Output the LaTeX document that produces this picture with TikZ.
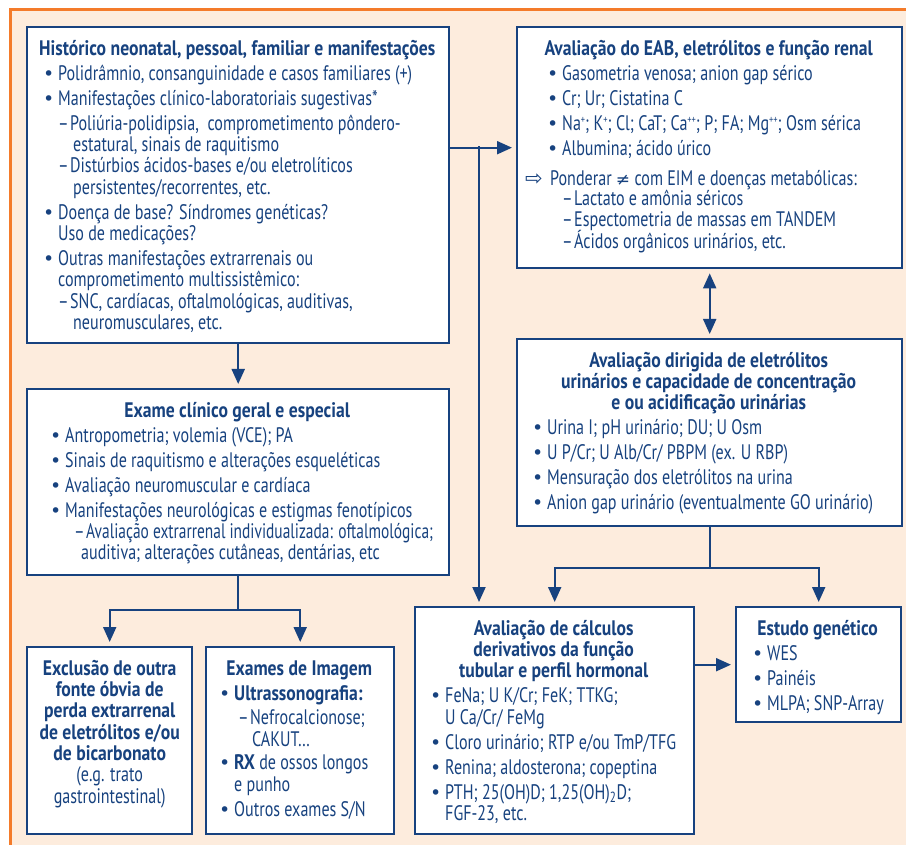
\documentclass[tikz,border=0pt]{standalone}
\usepackage{fontspec}
\setmainfont{PT Sans}[FakeStretch=0.765, BoldFeatures={FakeStretch=0.84}]
\newfontfamily\simbolos{DejaVu Sans}
\usetikzlibrary{arrows.meta,positioning}
\definecolor{azul}{HTML}{17427F}
\definecolor{laranja}{HTML}{F47B2A}
\definecolor{pessego}{HTML}{FDECDD}
\newcommand{\marca}{\makebox[15pt][l]{\simbolos\fontsize{19}{19}\selectfont •}}
\newcommand{\recuo}[1][15pt]{\hspace*{#1}}
\newcommand{\traco}[1][15pt]{\hspace*{#1}\makebox[12pt][l]{–}}
\newcommand{\titulo}[2]{\makebox[#1][c]{\rule{0pt}{16pt}\bfseries #2}}
\newcommand{\sobre}[1]{\raisebox{6.5pt}{\fontsize{11}{11}\selectfont #1}}

\begin{document}
\begin{tikzpicture}[x=1pt, y=-1pt,
    caixa/.style={draw=azul, line width=2.4pt, fill=white, inner sep=0pt, anchor=north west},
    texto/.style={inner sep=0pt, align=left, text=azul, font=\fontsize{21}{21.3}\selectfont},
    seta/.style={draw=azul, line width=2pt, -{Triangle[length=15pt,width=13pt]}, shorten >=4pt},
    seta2/.style={seta, {Triangle[length=15pt,width=13pt]}-{Triangle[length=15pt,width=13pt]}, shorten <=4pt}]
  \useasboundingbox (0,0) rectangle (906,845);
  \fill[pessego] (10.5,10) rectangle (906,845);
  \draw[laranja, line width=3pt] (10.5,845) -- (10.5,10) -- (906,10);

  \node [caixa, minimum width=422pt, minimum height=316pt] (historico) at (26,26) {};
  \node [caixa, minimum width=385pt, minimum height=241pt] (eab) at (516,26) {};
  \node [caixa, minimum width=385pt, minimum height=187pt] (dirigida) at (516,338) {};
  \node [caixa, minimum width=422pt, minimum height=186pt] (exame) at (26,388) {};
  \node [caixa, minimum width=165pt, minimum height=187pt] (exclusao) at (26,646) {};
  \node [caixa, minimum width=188pt, minimum height=187pt] (imagem) at (205,646) {};
  \node [caixa, minimum width=279pt, minimum height=227pt] (calculos) at (414,606) {};
  \node [caixa, minimum width=165pt, minimum height=115pt] (genetico) at (735,606) {};

  \node [texto, below right=13pt and 17pt of historico.north west] (historico-txt) {%
    \titulo{388pt}{Histórico neonatal, pessoal, familiar e manifestações}\\[3.7pt]
    \marca Polidrâmnio, consanguinidade e casos familiares (+)\\[3.7pt]
    \marca Manifestações clínico-laboratoriais sugestivas*\\[3.7pt]
    \traco Poliúria-polidipsia,\ \ comprometimento pôndero-\\
    \recuo[30pt]estatural, sinais de raquitismo\\
    \traco Distúrbios ácidos-bases e/ou eletrolíticos\\
    \recuo[30pt]persistentes/recorrentes, etc.\\[3.7pt]
    \marca Doença de base? Síndromes genéticas?\\
    \recuo Uso de medicações?\\[3.7pt]
    \marca Outras manifestações extrarrenais ou\\
    \recuo comprometimento multissistêmico:\\
    \traco SNC, cardíacas, oftalmológicas, auditivas,\\
    \recuo[30pt]neuromusculares, etc.};

  \node [texto, below right=13pt and 9pt of eab.north west] (eab-txt) {%
    \titulo{367pt}{Avaliação do EAB, eletrólitos e função renal}\\[3.7pt]
    \recuo[22pt]\marca Gasometria venosa; anion gap sérico\\[3.7pt]
    \recuo[22pt]\marca Cr; Ur; Cistatina C\\[3.7pt]
    \recuo[22pt]\marca Na\sobre{+}; K\sobre{+}; Cl; CaT; Ca\sobre{++}; P; FA; Mg\sobre{++}; Osm sérica\\[3.7pt]
    \recuo[22pt]\marca Albumina; ácido úrico\\[8.7pt]
    \makebox[25pt][l]{\simbolos\fontsize{21}{21}\selectfont ⇨}Ponderar {\simbolos\fontsize{17}{17}\selectfont ≠} com EIM e doenças metabólicas:\\[-0.8pt]
    \traco[37pt]Lactato e amônia séricos\\[-0.8pt]
    \traco[37pt]Espectometria de massas em TANDEM\\[-0.8pt]
    \traco[37pt]Ácidos orgânicos urinários, etc.};

  \node [texto, below right=13pt and 16pt of dirigida.north west] (dirigida-txt) {%
    \titulo{353pt}{Avaliação dirigida de eletrólitos}\\
    \titulo{353pt}{urinários e capacidade de concentração}\\
    \titulo{353pt}{e ou acidificação urinárias}\\[3.7pt]
    \marca Urina I; pH urinário; DU; U Osm\\[3.7pt]
    \marca U P/Cr; U Alb/Cr/ PBPM (ex. U RBP)\\[3.7pt]
    \marca Mensuração dos eletrólitos na urina\\[3.7pt]
    \marca Anion gap urinário (eventualmente GO urinário)};

  \node [texto, below right=13pt and 24pt of exame.north west] (exame-txt) {%
    \titulo{374pt}{Exame clínico geral e especial}\\[3.7pt]
    \marca Antropometria; volemia (VCE); PA\\[3.7pt]
    \marca Sinais de raquitismo e alterações esqueléticas\\[3.7pt]
    \marca Avaliação neuromuscular e cardíaca\\[3.7pt]
    \marca Manifestações neurológicas e estigmas fenotípicos\\
    \traco[24pt]\scalebox{0.96}[1]{Avaliação extrarrenal individualizada: oftalmológica;}\\
    \recuo[31pt]auditiva; alterações cutâneas, dentárias, etc};

  \node [texto, align=center, below=13pt of exclusao.north] (exclusao-txt) {%
    \textbf{\rule{0pt}{16pt}Exclusão de outra}\\
    \textbf{fonte óbvia de}\\
    \textbf{perda extrarrenal}\\
    \textbf{de eletrólitos e/ou}\\
    \textbf{de bicarbonato}\\
    (e.g. trato\\
    gastrointestinal)};

  \node [texto, below right=13pt and 14pt of imagem.north west] (imagem-txt) {%
    \titulo{160pt}{Exames de Imagem}\\[3.7pt]
    \marca\textbf{Ultrassonografia:}\\[2.5pt]
    \traco[19pt]Nefrocalcionose;\\[1.5pt]
    \recuo[33pt]CAKUT\dots\\[1.7pt]
    \marca\textbf{RX} de ossos longos\\
    \recuo e punho\\[3.7pt]
    \marca Outros exames S/N};

  \node [texto, below right=13pt and 16pt of calculos.north west] (calculos-txt) {%
    \titulo{247pt}{Avaliação de cálculos}\\
    \titulo{247pt}{derivativos da função}\\
    \titulo{247pt}{tubular e perfil hormonal}\\[3.7pt]
    \marca FeNa; U K/Cr; FeK; TTKG;\\
    \recuo U Ca/Cr/ FeMg\\[3.7pt]
    \marca Cloro urinário; RTP e/ou TmP/TFG\\[3.7pt]
    \marca Renina; aldosterona; copeptina\\[3.7pt]
    \marca PTH; 25(OH)D; 1,25(OH)\textsubscript{2}D;\\
    \recuo FGF-23, etc.};

  \node [texto, below right=13pt and 17pt of genetico.north west] (genetico-txt) {%
    \titulo{131pt}{Estudo genético}\\[3.7pt]
    \marca WES\\[3.7pt]
    \marca Painéis\\[3.7pt]
    \marca MLPA; SNP-Array};

  \coordinate (ramo) at (479,146.5);
  \coordinate [below=41pt of dirigida.south] (juncao1);
  \coordinate [below=34pt of exame.south] (juncao2);
  \draw[seta] (historico) -- (exame);
  \draw[seta] (historico.east |- eab.west) -- (eab.west);
  \draw[seta] (ramo) -- (ramo |- calculos.north);
  \draw[seta2] (eab) -- (dirigida);
  \draw[seta] (dirigida) -- (juncao1) -| (calculos);
  \draw[seta] (juncao1) -| (genetico);
  \draw[seta] (exame) -- (juncao2) -| (exclusao);
  \draw[seta] (juncao2) -| (imagem);
  \draw[seta] (calculos.east |- genetico.west) -- (genetico.west);
\end{tikzpicture}
\end{document}
